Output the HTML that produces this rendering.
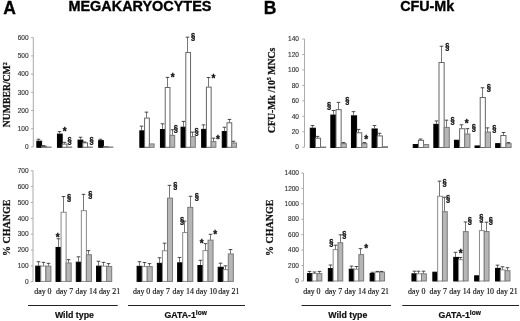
<!DOCTYPE html>
<html><head><meta charset="utf-8"><style>
html,body{margin:0;padding:0;background:#fff;overflow:hidden;width:520px;height:321px;}
svg{display:block;will-change:transform;}
.tk{font-family:"Liberation Sans",sans-serif;font-size:7.4px;fill:#333;stroke:#333;stroke-width:0.15px;text-anchor:end;}
.sec{font-family:"Liberation Sans",sans-serif;font-weight:bold;font-size:8.3px;fill:#111;stroke:#111;stroke-width:0.35px;text-anchor:middle;}
.ast{font-family:"Liberation Sans",sans-serif;font-weight:bold;font-size:10px;fill:#111;stroke:#111;stroke-width:0.3px;text-anchor:middle;}
.day{font-family:"Liberation Serif",serif;font-size:7.9px;fill:#111;stroke:#111;stroke-width:0.15px;}
.grp{font-family:"Liberation Sans",sans-serif;font-weight:bold;font-size:8.8px;fill:#111;stroke:#111;stroke-width:0.2px;text-anchor:middle;}
.ttl{font-family:"Liberation Sans",sans-serif;font-weight:bold;font-size:14.3px;fill:#000;stroke:#000;stroke-width:0.35px;}
.pl{font-family:"Liberation Sans",sans-serif;font-weight:bold;font-size:17.5px;fill:#000;stroke:#000;stroke-width:0.3px;}
.yt{font-family:"Liberation Serif",serif;font-weight:bold;font-size:9.6px;fill:#111;stroke:#111;stroke-width:0.25px;text-anchor:middle;}
</style></head><body>
<svg width="520" height="321" viewBox="0 0 520 321">
<rect x="0" y="0" width="520" height="321" fill="#fff"/>
<text x="3.2" y="13.8" class="pl">A</text>
<text x="68.4" y="11.3" class="ttl" style="font-size:14.45px">MEGAKARYOCYTES</text>
<text x="263.8" y="14.2" class="pl">B</text>
<text x="400.2" y="11.2" class="ttl">CFU-Mk</text>
<text transform="translate(9.8,94.7) rotate(-90)" class="yt" style="font-size:9.7px">NUMBER/CM<tspan dy="-3.2" font-size="6px">2</tspan></text>
<text transform="translate(9.6,227.7) rotate(-90)" class="yt" style="font-size:10px">% CHANGE</text>
<text transform="translate(274.6,90.3) rotate(-90)" class="yt" style="font-size:9.75px">CFU-Mk /10<tspan dy="-3.2" font-size="6px">5</tspan><tspan dy="3.2"> MNCs</tspan></text>
<text transform="translate(273.4,227.7) rotate(-90)" class="yt" style="font-size:10px">% CHANGE</text>
<line x1="33.3" y1="37.7" x2="33.3" y2="146.9" stroke="#ababab" stroke-width="1"/>
<line x1="31.1" y1="146.9" x2="33.3" y2="146.9" stroke="#ababab" stroke-width="1"/>
<text transform="translate(28.6,149.1) scale(0.88,1)" class="tk">0</text>
<line x1="31.1" y1="128.7" x2="33.3" y2="128.7" stroke="#ababab" stroke-width="1"/>
<text transform="translate(28.6,130.9) scale(0.88,1)" class="tk">100</text>
<line x1="31.1" y1="110.5" x2="33.3" y2="110.5" stroke="#ababab" stroke-width="1"/>
<text transform="translate(28.6,112.7) scale(0.88,1)" class="tk">200</text>
<line x1="31.1" y1="92.3" x2="33.3" y2="92.3" stroke="#ababab" stroke-width="1"/>
<text transform="translate(28.6,94.5) scale(0.88,1)" class="tk">300</text>
<line x1="31.1" y1="74.1" x2="33.3" y2="74.1" stroke="#ababab" stroke-width="1"/>
<text transform="translate(28.6,76.3) scale(0.88,1)" class="tk">400</text>
<line x1="31.1" y1="55.9" x2="33.3" y2="55.9" stroke="#ababab" stroke-width="1"/>
<text transform="translate(28.6,58.1) scale(0.88,1)" class="tk">500</text>
<line x1="31.1" y1="37.7" x2="33.3" y2="37.7" stroke="#ababab" stroke-width="1"/>
<text transform="translate(28.6,39.9) scale(0.88,1)" class="tk">600</text>
<rect x="36.85" y="141.19" width="4.75" height="6.11" fill="#000000" stroke="#000000" stroke-width="1"/>
<line x1="38.5" y1="139.26" x2="38.5" y2="140.89" stroke="#555" stroke-width="0.8"/>
<line x1="36.7" y1="139.26" x2="40.3" y2="139.26" stroke="#333" stroke-width="0.9"/>
<rect x="41.6" y="146.29" width="4.75" height="1.01" fill="#ffffff" stroke="#666" stroke-width="1"/>
<line x1="43.5" y1="145.63" x2="43.5" y2="145.99" stroke="#555" stroke-width="0.8"/>
<line x1="41.7" y1="145.63" x2="45.3" y2="145.63" stroke="#333" stroke-width="0.9"/>
<rect x="46.35" y="147.02" width="4.75" height="0.3" fill="#b6b6b6" stroke="#7a7a7a" stroke-width="1"/>
<rect x="57.45" y="134.1" width="4.75" height="13.2" fill="#000000" stroke="#000000" stroke-width="1"/>
<line x1="59.5" y1="131.61" x2="59.5" y2="133.8" stroke="#555" stroke-width="0.8"/>
<line x1="57.7" y1="131.61" x2="61.3" y2="131.61" stroke="#333" stroke-width="0.9"/>
<rect x="62.2" y="144.11" width="4.75" height="3.19" fill="#ffffff" stroke="#666" stroke-width="1"/>
<line x1="64.5" y1="142.35" x2="64.5" y2="143.81" stroke="#555" stroke-width="0.8"/>
<line x1="62.7" y1="142.35" x2="66.3" y2="142.35" stroke="#333" stroke-width="0.9"/>
<rect x="66.95" y="147.02" width="4.75" height="0.3" fill="#b6b6b6" stroke="#7a7a7a" stroke-width="1"/>
<rect x="78.05" y="140.1" width="4.75" height="7.2" fill="#000000" stroke="#000000" stroke-width="1"/>
<line x1="80.5" y1="137.25" x2="80.5" y2="139.8" stroke="#555" stroke-width="0.8"/>
<line x1="78.7" y1="137.25" x2="82.3" y2="137.25" stroke="#333" stroke-width="0.9"/>
<rect x="82.8" y="142.83" width="4.75" height="4.47" fill="#ffffff" stroke="#666" stroke-width="1"/>
<line x1="84.5" y1="141.99" x2="84.5" y2="142.53" stroke="#555" stroke-width="0.8"/>
<line x1="82.7" y1="141.99" x2="86.3" y2="141.99" stroke="#333" stroke-width="0.9"/>
<rect x="87.55" y="147.02" width="4.75" height="0.3" fill="#b6b6b6" stroke="#7a7a7a" stroke-width="1"/>
<rect x="98.65" y="140.65" width="4.75" height="6.65" fill="#000000" stroke="#000000" stroke-width="1"/>
<line x1="100.5" y1="139.26" x2="100.5" y2="140.35" stroke="#555" stroke-width="0.8"/>
<line x1="98.7" y1="139.26" x2="102.3" y2="139.26" stroke="#333" stroke-width="0.9"/>
<rect x="103.4" y="146.65" width="4.75" height="0.65" fill="#ffffff" stroke="#666" stroke-width="1"/>
<rect x="108.15" y="147.02" width="4.75" height="0.3" fill="#b6b6b6" stroke="#7a7a7a" stroke-width="1"/>
<rect x="139.85" y="130.82" width="4.75" height="16.48" fill="#000000" stroke="#000000" stroke-width="1"/>
<line x1="141.5" y1="126.15" x2="141.5" y2="130.52" stroke="#555" stroke-width="0.8"/>
<line x1="139.7" y1="126.15" x2="143.3" y2="126.15" stroke="#333" stroke-width="0.9"/>
<rect x="144.6" y="118.08" width="4.75" height="29.22" fill="#ffffff" stroke="#666" stroke-width="1"/>
<line x1="146.5" y1="112.14" x2="146.5" y2="117.78" stroke="#555" stroke-width="0.8"/>
<line x1="144.7" y1="112.14" x2="148.3" y2="112.14" stroke="#333" stroke-width="0.9"/>
<rect x="149.35" y="143.92" width="4.75" height="3.38" fill="#b6b6b6" stroke="#7a7a7a" stroke-width="1"/>
<rect x="160.45" y="129.55" width="4.75" height="17.75" fill="#000000" stroke="#000000" stroke-width="1"/>
<line x1="162.5" y1="123.79" x2="162.5" y2="129.25" stroke="#555" stroke-width="0.8"/>
<line x1="160.7" y1="123.79" x2="164.3" y2="123.79" stroke="#333" stroke-width="0.9"/>
<rect x="165.2" y="87.5" width="4.75" height="59.8" fill="#ffffff" stroke="#666" stroke-width="1"/>
<line x1="167.5" y1="77.38" x2="167.5" y2="87.2" stroke="#555" stroke-width="0.8"/>
<line x1="165.7" y1="77.38" x2="169.3" y2="77.38" stroke="#333" stroke-width="0.9"/>
<rect x="169.95" y="135.37" width="4.75" height="11.93" fill="#b6b6b6" stroke="#7a7a7a" stroke-width="1"/>
<line x1="172.5" y1="129.79" x2="172.5" y2="135.07" stroke="#555" stroke-width="0.8"/>
<line x1="170.7" y1="129.79" x2="174.3" y2="129.79" stroke="#333" stroke-width="0.9"/>
<rect x="181.05" y="127.18" width="4.75" height="20.12" fill="#000000" stroke="#000000" stroke-width="1"/>
<line x1="183.5" y1="121.42" x2="183.5" y2="126.88" stroke="#555" stroke-width="0.8"/>
<line x1="181.7" y1="121.42" x2="185.3" y2="121.42" stroke="#333" stroke-width="0.9"/>
<rect x="185.8" y="52.56" width="4.75" height="94.74" fill="#ffffff" stroke="#666" stroke-width="1"/>
<line x1="187.5" y1="37.15" x2="187.5" y2="52.26" stroke="#555" stroke-width="0.8"/>
<line x1="185.7" y1="37.15" x2="189.3" y2="37.15" stroke="#333" stroke-width="0.9"/>
<rect x="190.55" y="136.64" width="4.75" height="10.66" fill="#b6b6b6" stroke="#7a7a7a" stroke-width="1"/>
<line x1="192.5" y1="132.16" x2="192.5" y2="136.34" stroke="#555" stroke-width="0.8"/>
<line x1="190.7" y1="132.16" x2="194.3" y2="132.16" stroke="#333" stroke-width="0.9"/>
<rect x="201.65" y="129.36" width="4.75" height="17.94" fill="#000000" stroke="#000000" stroke-width="1"/>
<line x1="203.5" y1="124.88" x2="203.5" y2="129.06" stroke="#555" stroke-width="0.8"/>
<line x1="201.7" y1="124.88" x2="205.3" y2="124.88" stroke="#333" stroke-width="0.9"/>
<rect x="206.4" y="87.14" width="4.75" height="60.16" fill="#ffffff" stroke="#666" stroke-width="1"/>
<line x1="208.5" y1="77.56" x2="208.5" y2="86.84" stroke="#555" stroke-width="0.8"/>
<line x1="206.7" y1="77.56" x2="210.3" y2="77.56" stroke="#333" stroke-width="0.9"/>
<rect x="211.15" y="141.56" width="4.75" height="5.74" fill="#b6b6b6" stroke="#7a7a7a" stroke-width="1"/>
<line x1="213.5" y1="138.16" x2="213.5" y2="141.26" stroke="#555" stroke-width="0.8"/>
<line x1="211.7" y1="138.16" x2="215.3" y2="138.16" stroke="#333" stroke-width="0.9"/>
<rect x="222.25" y="131.55" width="4.75" height="15.75" fill="#000000" stroke="#000000" stroke-width="1"/>
<line x1="224.5" y1="127.24" x2="224.5" y2="131.25" stroke="#555" stroke-width="0.8"/>
<line x1="222.7" y1="127.24" x2="226.3" y2="127.24" stroke="#333" stroke-width="0.9"/>
<rect x="227" y="122.81" width="4.75" height="24.49" fill="#ffffff" stroke="#666" stroke-width="1"/>
<line x1="229.5" y1="119.42" x2="229.5" y2="122.51" stroke="#555" stroke-width="0.8"/>
<line x1="227.7" y1="119.42" x2="231.3" y2="119.42" stroke="#333" stroke-width="0.9"/>
<rect x="231.75" y="143.01" width="4.75" height="4.29" fill="#b6b6b6" stroke="#7a7a7a" stroke-width="1"/>
<line x1="233.5" y1="141.26" x2="233.5" y2="142.71" stroke="#555" stroke-width="0.8"/>
<line x1="231.7" y1="141.26" x2="235.3" y2="141.26" stroke="#333" stroke-width="0.9"/>
<text x="64.6" y="134.6" class="ast">*</text>
<text transform="translate(69.6,142.7) scale(0.9,1)" class="sec">§</text>
<text transform="translate(91.5,142.8) scale(0.9,1)" class="sec">§</text>
<text x="172.6" y="81.2" class="ast">*</text>
<text transform="translate(175.8,131.3) scale(0.9,1)" class="sec">§</text>
<text transform="translate(193.1,38.9) scale(0.9,1)" class="sec">§</text>
<text transform="translate(196.5,133.9) scale(0.9,1)" class="sec">§</text>
<text x="213.4" y="81.6" class="ast">*</text>
<text x="218" y="142.6" class="ast">*</text>
<line x1="33" y1="170.75" x2="33" y2="281.7" stroke="#ababab" stroke-width="1"/>
<line x1="30.8" y1="281.7" x2="33" y2="281.7" stroke="#ababab" stroke-width="1"/>
<text transform="translate(28.6,283.9) scale(0.88,1)" class="tk">0</text>
<line x1="30.8" y1="265.85" x2="33" y2="265.85" stroke="#ababab" stroke-width="1"/>
<text transform="translate(28.6,268.05) scale(0.88,1)" class="tk">100</text>
<line x1="30.8" y1="250" x2="33" y2="250" stroke="#ababab" stroke-width="1"/>
<text transform="translate(28.6,252.2) scale(0.88,1)" class="tk">200</text>
<line x1="30.8" y1="234.15" x2="33" y2="234.15" stroke="#ababab" stroke-width="1"/>
<text transform="translate(28.6,236.35) scale(0.88,1)" class="tk">300</text>
<line x1="30.8" y1="218.3" x2="33" y2="218.3" stroke="#ababab" stroke-width="1"/>
<text transform="translate(28.6,220.5) scale(0.88,1)" class="tk">400</text>
<line x1="30.8" y1="202.45" x2="33" y2="202.45" stroke="#ababab" stroke-width="1"/>
<text transform="translate(28.6,204.65) scale(0.88,1)" class="tk">500</text>
<line x1="30.8" y1="186.6" x2="33" y2="186.6" stroke="#ababab" stroke-width="1"/>
<text transform="translate(28.6,188.8) scale(0.88,1)" class="tk">600</text>
<line x1="30.8" y1="170.75" x2="33" y2="170.75" stroke="#ababab" stroke-width="1"/>
<text transform="translate(28.6,172.95) scale(0.88,1)" class="tk">700</text>
<rect x="35.75" y="266.15" width="5.05" height="15.25" fill="#000000" stroke="#000000" stroke-width="1"/>
<line x1="38.5" y1="261.73" x2="38.5" y2="265.85" stroke="#555" stroke-width="0.8"/>
<line x1="36.7" y1="261.73" x2="40.3" y2="261.73" stroke="#333" stroke-width="0.9"/>
<rect x="40.8" y="266.15" width="5.05" height="15.25" fill="#ffffff" stroke="#8a8a8a" stroke-width="1"/>
<line x1="43.5" y1="262.36" x2="43.5" y2="265.85" stroke="#555" stroke-width="0.8"/>
<line x1="41.7" y1="262.36" x2="45.3" y2="262.36" stroke="#333" stroke-width="0.9"/>
<rect x="45.85" y="266.15" width="5.05" height="15.25" fill="#b6b6b6" stroke="#7a7a7a" stroke-width="1"/>
<line x1="48.5" y1="263.31" x2="48.5" y2="265.85" stroke="#555" stroke-width="0.8"/>
<line x1="46.7" y1="263.31" x2="50.3" y2="263.31" stroke="#333" stroke-width="0.9"/>
<rect x="56.02" y="247.45" width="5.05" height="33.95" fill="#000000" stroke="#000000" stroke-width="1"/>
<line x1="58.5" y1="238.75" x2="58.5" y2="247.15" stroke="#555" stroke-width="0.8"/>
<line x1="56.7" y1="238.75" x2="60.3" y2="238.75" stroke="#333" stroke-width="0.9"/>
<rect x="61.07" y="212.26" width="5.05" height="69.14" fill="#ffffff" stroke="#8a8a8a" stroke-width="1"/>
<line x1="63.5" y1="196.59" x2="63.5" y2="211.96" stroke="#555" stroke-width="0.8"/>
<line x1="61.7" y1="196.59" x2="65.3" y2="196.59" stroke="#333" stroke-width="0.9"/>
<rect x="66.12" y="262.98" width="5.05" height="18.42" fill="#b6b6b6" stroke="#7a7a7a" stroke-width="1"/>
<line x1="68.5" y1="259.67" x2="68.5" y2="262.68" stroke="#555" stroke-width="0.8"/>
<line x1="66.7" y1="259.67" x2="70.3" y2="259.67" stroke="#333" stroke-width="0.9"/>
<rect x="76.29" y="262.19" width="5.05" height="19.21" fill="#000000" stroke="#000000" stroke-width="1"/>
<line x1="78.5" y1="256.82" x2="78.5" y2="261.89" stroke="#555" stroke-width="0.8"/>
<line x1="76.7" y1="256.82" x2="80.3" y2="256.82" stroke="#333" stroke-width="0.9"/>
<rect x="81.34" y="210.68" width="5.05" height="70.72" fill="#ffffff" stroke="#8a8a8a" stroke-width="1"/>
<line x1="83.5" y1="194.37" x2="83.5" y2="210.38" stroke="#555" stroke-width="0.8"/>
<line x1="81.7" y1="194.37" x2="85.3" y2="194.37" stroke="#333" stroke-width="0.9"/>
<rect x="86.39" y="254.74" width="5.05" height="26.66" fill="#b6b6b6" stroke="#7a7a7a" stroke-width="1"/>
<line x1="88.5" y1="250.63" x2="88.5" y2="254.44" stroke="#555" stroke-width="0.8"/>
<line x1="86.7" y1="250.63" x2="90.3" y2="250.63" stroke="#333" stroke-width="0.9"/>
<rect x="96.56" y="266.15" width="5.05" height="15.25" fill="#000000" stroke="#000000" stroke-width="1"/>
<line x1="98.5" y1="261.25" x2="98.5" y2="265.85" stroke="#555" stroke-width="0.8"/>
<line x1="96.7" y1="261.25" x2="100.3" y2="261.25" stroke="#333" stroke-width="0.9"/>
<rect x="101.61" y="266.15" width="5.05" height="15.25" fill="#ffffff" stroke="#8a8a8a" stroke-width="1"/>
<line x1="103.5" y1="262.36" x2="103.5" y2="265.85" stroke="#555" stroke-width="0.8"/>
<line x1="101.7" y1="262.36" x2="105.3" y2="262.36" stroke="#333" stroke-width="0.9"/>
<rect x="106.66" y="266.47" width="5.05" height="14.93" fill="#b6b6b6" stroke="#7a7a7a" stroke-width="1"/>
<line x1="108.5" y1="263.63" x2="108.5" y2="266.17" stroke="#555" stroke-width="0.8"/>
<line x1="106.7" y1="263.63" x2="110.3" y2="263.63" stroke="#333" stroke-width="0.9"/>
<rect x="137.1" y="266.31" width="5.05" height="15.09" fill="#000000" stroke="#000000" stroke-width="1"/>
<line x1="139.5" y1="261.73" x2="139.5" y2="266.01" stroke="#555" stroke-width="0.8"/>
<line x1="137.7" y1="261.73" x2="141.3" y2="261.73" stroke="#333" stroke-width="0.9"/>
<rect x="142.15" y="266.63" width="5.05" height="14.77" fill="#ffffff" stroke="#8a8a8a" stroke-width="1"/>
<line x1="144.5" y1="262.52" x2="144.5" y2="266.33" stroke="#555" stroke-width="0.8"/>
<line x1="142.7" y1="262.52" x2="146.3" y2="262.52" stroke="#333" stroke-width="0.9"/>
<rect x="147.2" y="266.63" width="5.05" height="14.77" fill="#b6b6b6" stroke="#7a7a7a" stroke-width="1"/>
<line x1="149.5" y1="263.63" x2="149.5" y2="266.33" stroke="#555" stroke-width="0.8"/>
<line x1="147.7" y1="263.63" x2="151.3" y2="263.63" stroke="#333" stroke-width="0.9"/>
<rect x="157.37" y="263.3" width="5.05" height="18.1" fill="#000000" stroke="#000000" stroke-width="1"/>
<line x1="159.5" y1="257.77" x2="159.5" y2="263" stroke="#555" stroke-width="0.8"/>
<line x1="157.7" y1="257.77" x2="161.3" y2="257.77" stroke="#333" stroke-width="0.9"/>
<rect x="162.42" y="250.78" width="5.05" height="30.62" fill="#ffffff" stroke="#8a8a8a" stroke-width="1"/>
<line x1="164.5" y1="243.18" x2="164.5" y2="250.48" stroke="#555" stroke-width="0.8"/>
<line x1="162.7" y1="243.18" x2="166.3" y2="243.18" stroke="#333" stroke-width="0.9"/>
<rect x="167.47" y="198.15" width="5.05" height="83.25" fill="#b6b6b6" stroke="#7a7a7a" stroke-width="1"/>
<line x1="169.5" y1="185.33" x2="169.5" y2="197.85" stroke="#555" stroke-width="0.8"/>
<line x1="167.7" y1="185.33" x2="171.3" y2="185.33" stroke="#333" stroke-width="0.9"/>
<rect x="177.64" y="262.82" width="5.05" height="18.58" fill="#000000" stroke="#000000" stroke-width="1"/>
<line x1="179.5" y1="257.45" x2="179.5" y2="262.52" stroke="#555" stroke-width="0.8"/>
<line x1="177.7" y1="257.45" x2="181.3" y2="257.45" stroke="#333" stroke-width="0.9"/>
<rect x="182.69" y="232.55" width="5.05" height="48.85" fill="#ffffff" stroke="#8a8a8a" stroke-width="1"/>
<line x1="184.5" y1="221.15" x2="184.5" y2="232.25" stroke="#555" stroke-width="0.8"/>
<line x1="182.7" y1="221.15" x2="186.3" y2="221.15" stroke="#333" stroke-width="0.9"/>
<rect x="187.74" y="207.35" width="5.05" height="74.05" fill="#b6b6b6" stroke="#7a7a7a" stroke-width="1"/>
<line x1="190.5" y1="196.27" x2="190.5" y2="207.05" stroke="#555" stroke-width="0.8"/>
<line x1="188.7" y1="196.27" x2="192.3" y2="196.27" stroke="#333" stroke-width="0.9"/>
<rect x="197.91" y="265.52" width="5.05" height="15.88" fill="#000000" stroke="#000000" stroke-width="1"/>
<line x1="200.5" y1="260.3" x2="200.5" y2="265.22" stroke="#555" stroke-width="0.8"/>
<line x1="198.7" y1="260.3" x2="202.3" y2="260.3" stroke="#333" stroke-width="0.9"/>
<rect x="202.96" y="250.62" width="5.05" height="30.78" fill="#ffffff" stroke="#8a8a8a" stroke-width="1"/>
<line x1="205.5" y1="243.66" x2="205.5" y2="250.32" stroke="#555" stroke-width="0.8"/>
<line x1="203.7" y1="243.66" x2="207.3" y2="243.66" stroke="#333" stroke-width="0.9"/>
<rect x="208.01" y="240.16" width="5.05" height="41.24" fill="#b6b6b6" stroke="#7a7a7a" stroke-width="1"/>
<line x1="210.5" y1="234.31" x2="210.5" y2="239.86" stroke="#555" stroke-width="0.8"/>
<line x1="208.7" y1="234.31" x2="212.3" y2="234.31" stroke="#333" stroke-width="0.9"/>
<rect x="218.18" y="267.26" width="5.05" height="14.14" fill="#000000" stroke="#000000" stroke-width="1"/>
<line x1="220.5" y1="263.16" x2="220.5" y2="266.96" stroke="#555" stroke-width="0.8"/>
<line x1="218.7" y1="263.16" x2="222.3" y2="263.16" stroke="#333" stroke-width="0.9"/>
<rect x="223.23" y="269.64" width="5.05" height="11.76" fill="#ffffff" stroke="#8a8a8a" stroke-width="1"/>
<line x1="225.5" y1="265.85" x2="225.5" y2="269.34" stroke="#555" stroke-width="0.8"/>
<line x1="223.7" y1="265.85" x2="227.3" y2="265.85" stroke="#333" stroke-width="0.9"/>
<rect x="228.28" y="253.95" width="5.05" height="27.45" fill="#b6b6b6" stroke="#7a7a7a" stroke-width="1"/>
<line x1="230.5" y1="249.52" x2="230.5" y2="253.65" stroke="#555" stroke-width="0.8"/>
<line x1="228.7" y1="249.52" x2="232.3" y2="249.52" stroke="#333" stroke-width="0.9"/>
<text x="57.7" y="240.5" class="ast">*</text>
<text transform="translate(69,199.6) scale(0.9,1)" class="sec">§</text>
<text transform="translate(90.2,197.3) scale(0.9,1)" class="sec">§</text>
<text transform="translate(175.2,187.8) scale(0.9,1)" class="sec">§</text>
<text transform="translate(182.1,222.6) scale(0.9,1)" class="sec">§</text>
<text transform="translate(196.8,199.1) scale(0.9,1)" class="sec">§</text>
<text x="201.6" y="247.2" class="ast">*</text>
<text x="215.3" y="238.1" class="ast">*</text>
<line x1="304.5" y1="39.05" x2="304.5" y2="147.2" stroke="#ababab" stroke-width="1"/>
<line x1="302.3" y1="147.2" x2="304.5" y2="147.2" stroke="#ababab" stroke-width="1"/>
<text transform="translate(299,149.4) scale(0.88,1)" class="tk">0</text>
<line x1="302.3" y1="131.75" x2="304.5" y2="131.75" stroke="#ababab" stroke-width="1"/>
<text transform="translate(299,133.95) scale(0.88,1)" class="tk">20</text>
<line x1="302.3" y1="116.3" x2="304.5" y2="116.3" stroke="#ababab" stroke-width="1"/>
<text transform="translate(299,118.5) scale(0.88,1)" class="tk">40</text>
<line x1="302.3" y1="100.85" x2="304.5" y2="100.85" stroke="#ababab" stroke-width="1"/>
<text transform="translate(299,103.05) scale(0.88,1)" class="tk">60</text>
<line x1="302.3" y1="85.4" x2="304.5" y2="85.4" stroke="#ababab" stroke-width="1"/>
<text transform="translate(299,87.6) scale(0.88,1)" class="tk">80</text>
<line x1="302.3" y1="69.95" x2="304.5" y2="69.95" stroke="#ababab" stroke-width="1"/>
<text transform="translate(299,72.15) scale(0.88,1)" class="tk">100</text>
<line x1="302.3" y1="54.5" x2="304.5" y2="54.5" stroke="#ababab" stroke-width="1"/>
<text transform="translate(299,56.7) scale(0.88,1)" class="tk">120</text>
<line x1="302.3" y1="39.05" x2="304.5" y2="39.05" stroke="#ababab" stroke-width="1"/>
<text transform="translate(299,41.25) scale(0.88,1)" class="tk">140</text>
<rect x="310.25" y="128.19" width="5.15" height="19.31" fill="#000000" stroke="#000000" stroke-width="1"/>
<line x1="312.5" y1="125.57" x2="312.5" y2="127.89" stroke="#555" stroke-width="0.8"/>
<line x1="310.7" y1="125.57" x2="314.3" y2="125.57" stroke="#333" stroke-width="0.9"/>
<rect x="315.4" y="138.23" width="5.15" height="9.27" fill="#ffffff" stroke="#666" stroke-width="1"/>
<line x1="317.5" y1="136.38" x2="317.5" y2="137.93" stroke="#555" stroke-width="0.8"/>
<line x1="315.7" y1="136.38" x2="319.3" y2="136.38" stroke="#333" stroke-width="0.9"/>
<rect x="320.55" y="147.04" width="5.15" height="0.46" fill="#b6b6b6" stroke="#7a7a7a" stroke-width="1"/>
<rect x="330.85" y="115.05" width="5.15" height="32.44" fill="#000000" stroke="#000000" stroke-width="1"/>
<line x1="333.5" y1="110.51" x2="333.5" y2="114.75" stroke="#555" stroke-width="0.8"/>
<line x1="331.7" y1="110.51" x2="335.3" y2="110.51" stroke="#333" stroke-width="0.9"/>
<rect x="336" y="109.65" width="5.15" height="37.85" fill="#ffffff" stroke="#666" stroke-width="1"/>
<line x1="338.5" y1="102.39" x2="338.5" y2="109.35" stroke="#555" stroke-width="0.8"/>
<line x1="336.7" y1="102.39" x2="340.3" y2="102.39" stroke="#333" stroke-width="0.9"/>
<rect x="341.15" y="143.64" width="5.15" height="3.86" fill="#b6b6b6" stroke="#7a7a7a" stroke-width="1"/>
<line x1="343.5" y1="142.56" x2="343.5" y2="143.34" stroke="#555" stroke-width="0.8"/>
<line x1="341.7" y1="142.56" x2="345.3" y2="142.56" stroke="#333" stroke-width="0.9"/>
<rect x="351.45" y="115.83" width="5.15" height="31.67" fill="#000000" stroke="#000000" stroke-width="1"/>
<line x1="353.5" y1="111.66" x2="353.5" y2="115.53" stroke="#555" stroke-width="0.8"/>
<line x1="351.7" y1="111.66" x2="355.3" y2="111.66" stroke="#333" stroke-width="0.9"/>
<rect x="356.6" y="132.82" width="5.15" height="14.68" fill="#ffffff" stroke="#666" stroke-width="1"/>
<line x1="358.5" y1="129.43" x2="358.5" y2="132.52" stroke="#555" stroke-width="0.8"/>
<line x1="356.7" y1="129.43" x2="360.3" y2="129.43" stroke="#333" stroke-width="0.9"/>
<rect x="361.75" y="143.64" width="5.15" height="3.86" fill="#b6b6b6" stroke="#7a7a7a" stroke-width="1"/>
<line x1="364.5" y1="142.56" x2="364.5" y2="143.34" stroke="#555" stroke-width="0.8"/>
<line x1="362.7" y1="142.56" x2="366.3" y2="142.56" stroke="#333" stroke-width="0.9"/>
<rect x="372.05" y="128.96" width="5.15" height="18.54" fill="#000000" stroke="#000000" stroke-width="1"/>
<line x1="374.5" y1="125.57" x2="374.5" y2="128.66" stroke="#555" stroke-width="0.8"/>
<line x1="372.7" y1="125.57" x2="376.3" y2="125.57" stroke="#333" stroke-width="0.9"/>
<rect x="377.2" y="135.91" width="5.15" height="11.59" fill="#ffffff" stroke="#666" stroke-width="1"/>
<line x1="379.5" y1="133.29" x2="379.5" y2="135.61" stroke="#555" stroke-width="0.8"/>
<line x1="377.7" y1="133.29" x2="381.3" y2="133.29" stroke="#333" stroke-width="0.9"/>
<rect x="382.35" y="146.73" width="5.15" height="0.77" fill="#b6b6b6" stroke="#7a7a7a" stroke-width="1"/>
<rect x="413.25" y="144.56" width="5.15" height="2.94" fill="#000000" stroke="#000000" stroke-width="1"/>
<rect x="418.4" y="140.32" width="5.15" height="7.18" fill="#ffffff" stroke="#666" stroke-width="1"/>
<line x1="420.5" y1="139.01" x2="420.5" y2="140.02" stroke="#555" stroke-width="0.8"/>
<line x1="418.7" y1="139.01" x2="422.3" y2="139.01" stroke="#333" stroke-width="0.9"/>
<rect x="423.55" y="144.56" width="5.15" height="2.94" fill="#b6b6b6" stroke="#7a7a7a" stroke-width="1"/>
<rect x="433.85" y="124.32" width="5.15" height="23.17" fill="#000000" stroke="#000000" stroke-width="1"/>
<line x1="436.5" y1="120.93" x2="436.5" y2="124.02" stroke="#555" stroke-width="0.8"/>
<line x1="434.7" y1="120.93" x2="438.3" y2="120.93" stroke="#333" stroke-width="0.9"/>
<rect x="439" y="62.52" width="5.15" height="84.97" fill="#ffffff" stroke="#666" stroke-width="1"/>
<line x1="441.5" y1="46.23" x2="441.5" y2="62.22" stroke="#555" stroke-width="0.8"/>
<line x1="439.7" y1="46.23" x2="443.3" y2="46.23" stroke="#333" stroke-width="0.9"/>
<rect x="444.15" y="127.41" width="5.15" height="20.09" fill="#b6b6b6" stroke="#7a7a7a" stroke-width="1"/>
<line x1="446.5" y1="120.16" x2="446.5" y2="127.11" stroke="#555" stroke-width="0.8"/>
<line x1="444.7" y1="120.16" x2="448.3" y2="120.16" stroke="#333" stroke-width="0.9"/>
<rect x="454.45" y="140.24" width="5.15" height="7.26" fill="#000000" stroke="#000000" stroke-width="1"/>
<rect x="459.6" y="128.73" width="5.15" height="18.77" fill="#ffffff" stroke="#666" stroke-width="1"/>
<line x1="461.5" y1="124.8" x2="461.5" y2="128.43" stroke="#555" stroke-width="0.8"/>
<line x1="459.7" y1="124.8" x2="463.3" y2="124.8" stroke="#333" stroke-width="0.9"/>
<rect x="464.75" y="133.98" width="5.15" height="13.52" fill="#b6b6b6" stroke="#7a7a7a" stroke-width="1"/>
<line x1="467.5" y1="128.66" x2="467.5" y2="133.68" stroke="#555" stroke-width="0.8"/>
<line x1="465.7" y1="128.66" x2="469.3" y2="128.66" stroke="#333" stroke-width="0.9"/>
<rect x="475.05" y="145.96" width="5.15" height="1.54" fill="#000000" stroke="#000000" stroke-width="1"/>
<rect x="480.2" y="97.52" width="5.15" height="49.98" fill="#ffffff" stroke="#666" stroke-width="1"/>
<line x1="482.5" y1="87.79" x2="482.5" y2="97.22" stroke="#555" stroke-width="0.8"/>
<line x1="480.7" y1="87.79" x2="484.3" y2="87.79" stroke="#333" stroke-width="0.9"/>
<rect x="485.35" y="132.05" width="5.15" height="15.45" fill="#b6b6b6" stroke="#7a7a7a" stroke-width="1"/>
<line x1="487.5" y1="127.89" x2="487.5" y2="131.75" stroke="#555" stroke-width="0.8"/>
<line x1="485.7" y1="127.89" x2="489.3" y2="127.89" stroke="#333" stroke-width="0.9"/>
<rect x="495.65" y="143.64" width="5.15" height="3.86" fill="#000000" stroke="#000000" stroke-width="1"/>
<rect x="500.8" y="135.53" width="5.15" height="11.97" fill="#ffffff" stroke="#666" stroke-width="1"/>
<line x1="503.5" y1="132.52" x2="503.5" y2="135.23" stroke="#555" stroke-width="0.8"/>
<line x1="501.7" y1="132.52" x2="505.3" y2="132.52" stroke="#333" stroke-width="0.9"/>
<rect x="505.95" y="143.64" width="5.15" height="3.86" fill="#b6b6b6" stroke="#7a7a7a" stroke-width="1"/>
<line x1="508.5" y1="142.56" x2="508.5" y2="143.34" stroke="#555" stroke-width="0.8"/>
<line x1="506.7" y1="142.56" x2="510.3" y2="142.56" stroke="#333" stroke-width="0.9"/>
<text transform="translate(329,107.9) scale(0.9,1)" class="sec">§</text>
<text transform="translate(347.2,103.1) scale(0.9,1)" class="sec">§</text>
<text x="366.1" y="142.6" class="ast">*</text>
<text transform="translate(447.4,48.6) scale(0.9,1)" class="sec">§</text>
<text transform="translate(452.5,123.1) scale(0.9,1)" class="sec">§</text>
<text x="466.8" y="127.2" class="ast">*</text>
<text transform="translate(473.9,129.7) scale(0.9,1)" class="sec">§</text>
<text transform="translate(488.7,89.8) scale(0.9,1)" class="sec">§</text>
<text transform="translate(494.4,131) scale(0.9,1)" class="sec">§</text>
<line x1="303.5" y1="172.99" x2="303.5" y2="281" stroke="#ababab" stroke-width="1"/>
<line x1="301.3" y1="281" x2="303.5" y2="281" stroke="#ababab" stroke-width="1"/>
<text transform="translate(299,283.2) scale(0.88,1)" class="tk">0</text>
<line x1="301.3" y1="265.57" x2="303.5" y2="265.57" stroke="#ababab" stroke-width="1"/>
<text transform="translate(299,267.77) scale(0.88,1)" class="tk">200</text>
<line x1="301.3" y1="250.14" x2="303.5" y2="250.14" stroke="#ababab" stroke-width="1"/>
<text transform="translate(299,252.34) scale(0.88,1)" class="tk">400</text>
<line x1="301.3" y1="234.71" x2="303.5" y2="234.71" stroke="#ababab" stroke-width="1"/>
<text transform="translate(299,236.91) scale(0.88,1)" class="tk">600</text>
<line x1="301.3" y1="219.28" x2="303.5" y2="219.28" stroke="#ababab" stroke-width="1"/>
<text transform="translate(299,221.48) scale(0.88,1)" class="tk">800</text>
<line x1="301.3" y1="203.85" x2="303.5" y2="203.85" stroke="#ababab" stroke-width="1"/>
<text transform="translate(299,206.05) scale(0.88,1)" class="tk">1000</text>
<line x1="301.3" y1="188.42" x2="303.5" y2="188.42" stroke="#ababab" stroke-width="1"/>
<text transform="translate(299,190.62) scale(0.88,1)" class="tk">1200</text>
<line x1="301.3" y1="172.99" x2="303.5" y2="172.99" stroke="#ababab" stroke-width="1"/>
<text transform="translate(299,175.19) scale(0.88,1)" class="tk">1400</text>
<rect x="307.45" y="273.59" width="4.8" height="7.41" fill="#000000" stroke="#000000" stroke-width="1"/>
<line x1="309.5" y1="271.43" x2="309.5" y2="273.29" stroke="#555" stroke-width="0.8"/>
<line x1="307.7" y1="271.43" x2="311.3" y2="271.43" stroke="#333" stroke-width="0.9"/>
<rect x="312.25" y="273.59" width="4.8" height="7.41" fill="#ffffff" stroke="#8a8a8a" stroke-width="1"/>
<line x1="314.5" y1="271.97" x2="314.5" y2="273.29" stroke="#555" stroke-width="0.8"/>
<line x1="312.7" y1="271.97" x2="316.3" y2="271.97" stroke="#333" stroke-width="0.9"/>
<rect x="317.05" y="273.59" width="4.8" height="7.41" fill="#b6b6b6" stroke="#7a7a7a" stroke-width="1"/>
<line x1="319.5" y1="271.43" x2="319.5" y2="273.29" stroke="#555" stroke-width="0.8"/>
<line x1="317.7" y1="271.43" x2="321.3" y2="271.43" stroke="#333" stroke-width="0.9"/>
<rect x="328.35" y="268.57" width="4.8" height="12.43" fill="#000000" stroke="#000000" stroke-width="1"/>
<line x1="330.5" y1="265.03" x2="330.5" y2="268.27" stroke="#555" stroke-width="0.8"/>
<line x1="328.7" y1="265.03" x2="332.3" y2="265.03" stroke="#333" stroke-width="0.9"/>
<rect x="333.15" y="249.59" width="4.8" height="31.41" fill="#ffffff" stroke="#8a8a8a" stroke-width="1"/>
<line x1="335.5" y1="245.2" x2="335.5" y2="249.29" stroke="#555" stroke-width="0.8"/>
<line x1="333.7" y1="245.2" x2="337.3" y2="245.2" stroke="#333" stroke-width="0.9"/>
<rect x="337.95" y="242.73" width="4.8" height="38.27" fill="#b6b6b6" stroke="#7a7a7a" stroke-width="1"/>
<line x1="340.5" y1="234.79" x2="340.5" y2="242.43" stroke="#555" stroke-width="0.8"/>
<line x1="338.7" y1="234.79" x2="342.3" y2="234.79" stroke="#333" stroke-width="0.9"/>
<rect x="349.25" y="269.19" width="4.8" height="11.81" fill="#000000" stroke="#000000" stroke-width="1"/>
<line x1="351.5" y1="266.11" x2="351.5" y2="268.89" stroke="#555" stroke-width="0.8"/>
<line x1="349.7" y1="266.11" x2="353.3" y2="266.11" stroke="#333" stroke-width="0.9"/>
<rect x="354.05" y="269.19" width="4.8" height="11.81" fill="#ffffff" stroke="#8a8a8a" stroke-width="1"/>
<line x1="356.5" y1="266.5" x2="356.5" y2="268.89" stroke="#555" stroke-width="0.8"/>
<line x1="354.7" y1="266.5" x2="358.3" y2="266.5" stroke="#333" stroke-width="0.9"/>
<rect x="358.85" y="254.61" width="4.8" height="26.39" fill="#b6b6b6" stroke="#7a7a7a" stroke-width="1"/>
<line x1="360.5" y1="248.67" x2="360.5" y2="254.31" stroke="#555" stroke-width="0.8"/>
<line x1="358.7" y1="248.67" x2="362.3" y2="248.67" stroke="#333" stroke-width="0.9"/>
<rect x="370.15" y="273.51" width="4.8" height="7.49" fill="#000000" stroke="#000000" stroke-width="1"/>
<line x1="372.5" y1="272.28" x2="372.5" y2="273.21" stroke="#555" stroke-width="0.8"/>
<line x1="370.7" y1="272.28" x2="374.3" y2="272.28" stroke="#333" stroke-width="0.9"/>
<rect x="374.95" y="272.12" width="4.8" height="8.88" fill="#ffffff" stroke="#8a8a8a" stroke-width="1"/>
<line x1="377.5" y1="271.43" x2="377.5" y2="271.82" stroke="#555" stroke-width="0.8"/>
<line x1="375.7" y1="271.43" x2="379.3" y2="271.43" stroke="#333" stroke-width="0.9"/>
<rect x="379.75" y="272.12" width="4.8" height="8.88" fill="#b6b6b6" stroke="#7a7a7a" stroke-width="1"/>
<line x1="381.5" y1="271.43" x2="381.5" y2="271.82" stroke="#555" stroke-width="0.8"/>
<line x1="379.7" y1="271.43" x2="383.3" y2="271.43" stroke="#333" stroke-width="0.9"/>
<rect x="411.95" y="273.82" width="4.8" height="7.18" fill="#000000" stroke="#000000" stroke-width="1"/>
<line x1="414.5" y1="271.2" x2="414.5" y2="273.52" stroke="#555" stroke-width="0.8"/>
<line x1="412.7" y1="271.2" x2="416.3" y2="271.2" stroke="#333" stroke-width="0.9"/>
<rect x="416.75" y="273.82" width="4.8" height="7.18" fill="#ffffff" stroke="#8a8a8a" stroke-width="1"/>
<line x1="418.5" y1="271.2" x2="418.5" y2="273.52" stroke="#555" stroke-width="0.8"/>
<line x1="416.7" y1="271.2" x2="420.3" y2="271.2" stroke="#333" stroke-width="0.9"/>
<rect x="421.55" y="273.82" width="4.8" height="7.18" fill="#b6b6b6" stroke="#7a7a7a" stroke-width="1"/>
<line x1="423.5" y1="271.2" x2="423.5" y2="273.52" stroke="#555" stroke-width="0.8"/>
<line x1="421.7" y1="271.2" x2="425.3" y2="271.2" stroke="#333" stroke-width="0.9"/>
<rect x="432.85" y="272.2" width="4.8" height="8.8" fill="#000000" stroke="#000000" stroke-width="1"/>
<rect x="437.65" y="196.28" width="4.8" height="84.72" fill="#ffffff" stroke="#8a8a8a" stroke-width="1"/>
<line x1="439.5" y1="181.17" x2="439.5" y2="195.98" stroke="#555" stroke-width="0.8"/>
<line x1="437.7" y1="181.17" x2="441.3" y2="181.17" stroke="#333" stroke-width="0.9"/>
<rect x="442.45" y="211.71" width="4.8" height="69.29" fill="#b6b6b6" stroke="#7a7a7a" stroke-width="1"/>
<line x1="444.5" y1="197.29" x2="444.5" y2="211.41" stroke="#555" stroke-width="0.8"/>
<line x1="442.7" y1="197.29" x2="446.3" y2="197.29" stroke="#333" stroke-width="0.9"/>
<rect x="453.75" y="257.38" width="4.8" height="23.62" fill="#000000" stroke="#000000" stroke-width="1"/>
<line x1="455.5" y1="252.3" x2="455.5" y2="257.08" stroke="#555" stroke-width="0.8"/>
<line x1="453.7" y1="252.3" x2="457.3" y2="252.3" stroke="#333" stroke-width="0.9"/>
<rect x="458.55" y="259.7" width="4.8" height="21.3" fill="#ffffff" stroke="#8a8a8a" stroke-width="1"/>
<line x1="460.5" y1="257.47" x2="460.5" y2="259.4" stroke="#555" stroke-width="0.8"/>
<line x1="458.7" y1="257.47" x2="462.3" y2="257.47" stroke="#333" stroke-width="0.9"/>
<rect x="463.35" y="231.62" width="4.8" height="49.38" fill="#b6b6b6" stroke="#7a7a7a" stroke-width="1"/>
<line x1="465.5" y1="221.98" x2="465.5" y2="231.32" stroke="#555" stroke-width="0.8"/>
<line x1="463.7" y1="221.98" x2="467.3" y2="221.98" stroke="#333" stroke-width="0.9"/>
<rect x="474.65" y="275.82" width="4.8" height="5.18" fill="#000000" stroke="#000000" stroke-width="1"/>
<rect x="479.45" y="230.61" width="4.8" height="50.39" fill="#ffffff" stroke="#8a8a8a" stroke-width="1"/>
<line x1="481.5" y1="222.37" x2="481.5" y2="230.31" stroke="#555" stroke-width="0.8"/>
<line x1="479.7" y1="222.37" x2="483.3" y2="222.37" stroke="#333" stroke-width="0.9"/>
<rect x="484.25" y="231.54" width="4.8" height="49.46" fill="#b6b6b6" stroke="#7a7a7a" stroke-width="1"/>
<line x1="486.5" y1="222.21" x2="486.5" y2="231.24" stroke="#555" stroke-width="0.8"/>
<line x1="484.7" y1="222.21" x2="488.3" y2="222.21" stroke="#333" stroke-width="0.9"/>
<rect x="495.55" y="268.34" width="4.8" height="12.66" fill="#000000" stroke="#000000" stroke-width="1"/>
<line x1="497.5" y1="265.18" x2="497.5" y2="268.04" stroke="#555" stroke-width="0.8"/>
<line x1="495.7" y1="265.18" x2="499.3" y2="265.18" stroke="#333" stroke-width="0.9"/>
<rect x="500.35" y="269.88" width="4.8" height="11.12" fill="#ffffff" stroke="#8a8a8a" stroke-width="1"/>
<line x1="502.5" y1="266.8" x2="502.5" y2="269.58" stroke="#555" stroke-width="0.8"/>
<line x1="500.7" y1="266.8" x2="504.3" y2="266.8" stroke="#333" stroke-width="0.9"/>
<rect x="505.15" y="270.73" width="4.8" height="10.27" fill="#b6b6b6" stroke="#7a7a7a" stroke-width="1"/>
<line x1="507.5" y1="267.73" x2="507.5" y2="270.43" stroke="#555" stroke-width="0.8"/>
<line x1="505.7" y1="267.73" x2="509.3" y2="267.73" stroke="#333" stroke-width="0.9"/>
<text transform="translate(331.2,245.1) scale(0.9,1)" class="sec">§</text>
<text transform="translate(344.3,236.9) scale(0.9,1)" class="sec">§</text>
<text x="366.2" y="251.9" class="ast">*</text>
<text transform="translate(444.6,184.9) scale(0.9,1)" class="sec">§</text>
<text transform="translate(448.1,200.7) scale(0.9,1)" class="sec">§</text>
<text x="460.6" y="257" class="ast">*</text>
<text transform="translate(469.7,223) scale(0.9,1)" class="sec">§</text>
<text transform="translate(481.2,220.4) scale(0.9,1)" class="sec">§</text>
<text transform="translate(490.9,223.1) scale(0.9,1)" class="sec">§</text>
<text x="34.2" y="294.3" class="day">day 0</text>
<text x="55.9" y="294.3" class="day">day 7</text>
<text x="75.6" y="294.3" class="day">day 14</text>
<text x="98.9" y="294.3" class="day">day 21</text>
<text x="133" y="294.3" class="day">day 0</text>
<text x="152.6" y="294.3" class="day">day 7</text>
<text x="172.6" y="294.3" class="day">day 14</text>
<text x="195.8" y="294.3" class="day">day 10</text>
<text x="218.2" y="294.3" class="day">day 21</text>
<text x="303.2" y="293.8" class="day">day 0</text>
<text x="324.9" y="293.8" class="day">day 7</text>
<text x="344.6" y="293.8" class="day">day 14</text>
<text x="367.8" y="293.8" class="day">day 21</text>
<text x="408.1" y="293.8" class="day">day 0</text>
<text x="429.6" y="293.8" class="day">day 7</text>
<text x="449.3" y="293.8" class="day">day 14</text>
<text x="472.8" y="293.8" class="day">day 10</text>
<text x="496.5" y="293.8" class="day">day 21</text>
<line x1="28" y1="305.5" x2="117.7" y2="305.5" stroke="#222" stroke-width="1"/>
<line x1="128" y1="305.5" x2="245" y2="305.5" stroke="#222" stroke-width="1"/>
<line x1="301.6" y1="305.5" x2="391" y2="305.5" stroke="#222" stroke-width="1"/>
<line x1="402.3" y1="305.5" x2="519" y2="305.5" stroke="#222" stroke-width="1"/>
<text x="74.4" y="317.6" class="grp">Wild type</text>
<text x="347.8" y="317.6" class="grp">Wild type</text>
<text x="185.6" y="317.6" class="grp">GATA-1<tspan dy="-3.1" font-size="6.6px">low</tspan></text>
<text x="459.6" y="317.6" class="grp">GATA-1<tspan dy="-3.1" font-size="6.6px">low</tspan></text>
</svg></body></html>
